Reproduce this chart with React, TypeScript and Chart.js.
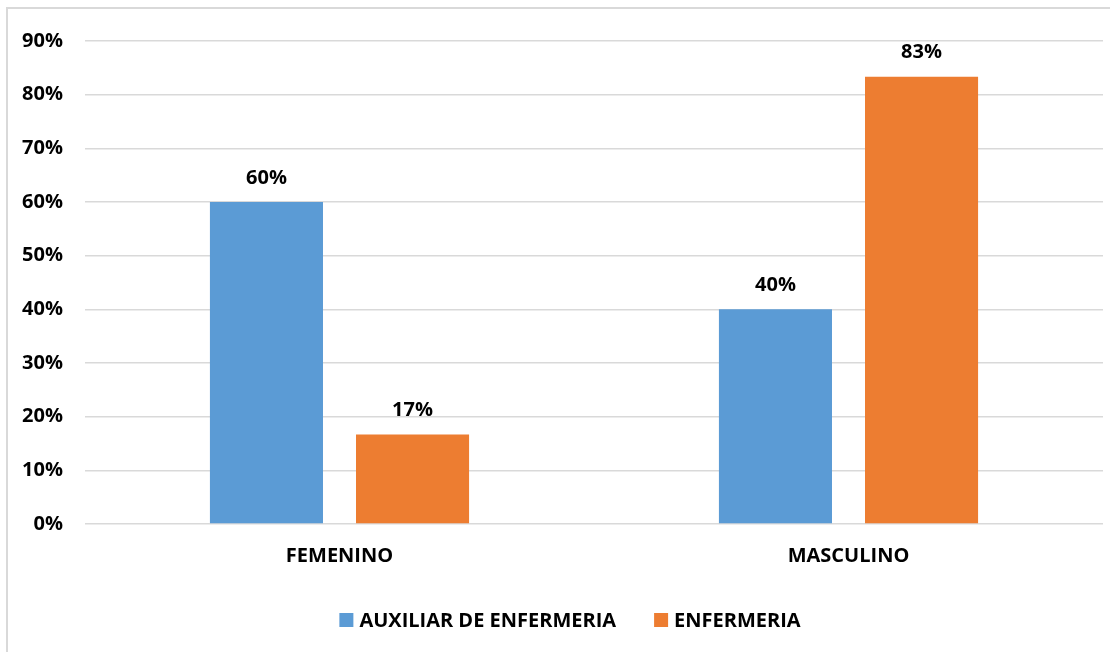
import React, { useEffect, useRef } from "react";
import { Chart, registerables } from "chart.js";

Chart.register(...registerables);

const categories = ["FEMENINO", "MASCULINO"];
const seriesNames = ["AUXILIAR DE ENFERMERIA", "ENFERMERIA"];
const seriesColors = ["#5B9BD5", "#ED7D31"];
const auxiliarValues = [60, 40];
const enfermeriaValues = [16.67, 83.33];
const yTicks = [0, 10, 20, 30, 40, 50, 60, 70, 80, 90];

const FONT = "'Open Sans', 'Noto Sans', sans-serif";

const dataLabelPlugin = {
  id: "dataLabels",
  afterDatasetsDraw(chart: any) {
    const ctx = chart.ctx;
    ctx.save();
    ctx.font = `bold 20px ${FONT}`;
    ctx.fillStyle = "#000";
    ctx.textAlign = "center";
    ctx.textBaseline = "bottom";
    chart.data.datasets.forEach((ds: any, i: number) => {
      const meta = chart.getDatasetMeta(i);
      meta.data.forEach((bar: any, j: number) => {
        const v = ds.data[j];
        ctx.fillText(Math.round(v) + "%", bar.x, bar.y - 14);
      });
    });
    ctx.restore();
  },
};

const bottomLegendPlugin = {
  id: "bottomLegend",
  afterDraw(chart: any) {
    const ctx = chart.ctx;
    ctx.save();
    ctx.font = `bold 20px ${FONT}`;
    ctx.textBaseline = "middle";
    ctx.textAlign = "left";
    const box = 14;
    const gapText = 6;
    const gapItem = 38;
    const items = chart.data.datasets.map((ds: any) => ({
      label: ds.label,
      color: ds.backgroundColor,
      w: ctx.measureText(ds.label).width,
    }));
    const total = items.reduce((s: number, it: any) => s + box + gapText + it.w, 0) + gapItem * (items.length - 1);
    const cy = 620;
    let x = chart.width / 2 + 15 - total / 2;
    items.forEach((it: any) => {
      ctx.fillStyle = it.color;
      ctx.fillRect(x, cy - box / 2, box, box);
      x += box + gapText;
      ctx.fillStyle = "#000";
      ctx.fillText(it.label, x, cy + 1);
      x += it.w + gapItem;
    });
    ctx.restore();
  },
};

export default function App() {
  const ref = useRef<HTMLCanvasElement>(null);
  useEffect(() => {
    if (!ref.current) return;
    const chart = new Chart(ref.current, {
      type: "bar",
      data: {
        labels: categories,
        datasets: [
          {
            label: seriesNames[0],
            data: auxiliarValues,
            backgroundColor: seriesColors[0],
            categoryPercentage: 0.574,
            barPercentage: 0.774,
          },
          {
            label: seriesNames[1],
            data: enfermeriaValues,
            backgroundColor: seriesColors[1],
            categoryPercentage: 0.574,
            barPercentage: 0.774,
          },
        ],
      },
      options: {
        animation: false,
        responsive: false,
        maintainAspectRatio: false,
        layout: { padding: { left: 0, right: 7, top: 41, bottom: 0 } },
        plugins: {
          tooltip: { enabled: false },
          legend: { display: false },
        },
        scales: {
          x: {
            grid: { display: false },
            border: { display: false },
            afterFit: (scale: any) => {
              scale.height = 128;
            },
            ticks: {
              color: "#000",
              padding: 12,
              font: { family: FONT, size: 20, weight: "bold" },
            },
          },
          y: {
            min: 0,
            max: 90,
            afterBuildTicks: (axis: any) => {
              axis.ticks = yTicks.map((v) => ({ value: v }));
            },
            afterFit: (scale: any) => {
              scale.width = 85;
            },
            grid: { color: "#d9d9d9", lineWidth: 1.5, drawTicks: false },
            border: { display: false },
            ticks: {
              color: "#000",
              padding: 22,
              font: { family: FONT, size: 20, weight: "bold" },
              callback: (v: any) => v + "%",
            },
          },
        },
      },
      plugins: [dataLabelPlugin, bottomLegendPlugin],
    });
    return () => chart.destroy();
  }, []);
  return (
    <div style={{ position: "fixed", left: 0, top: 0, width: 1110, height: 652, background: "#fff", overflow: "hidden" }}>
      <div
        style={{
          position: "absolute",
          left: 6,
          top: 7,
          width: 1120,
          height: 660,
          border: "2px solid #d9d9d9",
        }}
      />
      <canvas ref={ref} width={1110} height={652} style={{ position: "absolute", left: 0, top: 0 }} />
    </div>
  );
}
